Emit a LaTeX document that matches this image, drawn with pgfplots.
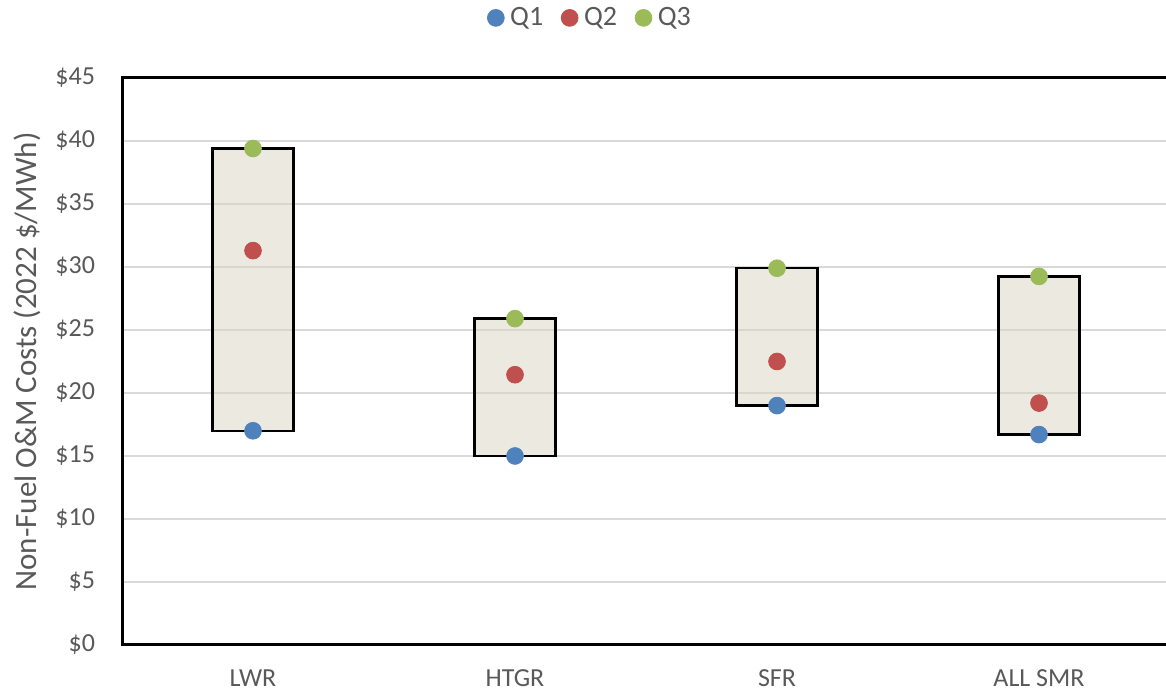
\documentclass[border=0pt]{standalone}
\usepackage{pgfplots}
\pgfplotsset{compat=1.18}
\usepackage{pgfplotstable}
\usepackage{fontspec}
\setmainfont{Carlito}
\definecolor{qone}{HTML}{4F81BD}
\definecolor{qtwo}{HTML}{C0504D}
\definecolor{qthree}{HTML}{9BBB59}
\definecolor{boxfill}{HTML}{D9D5C1}
\definecolor{gridc}{HTML}{D9D9D9}
\definecolor{txt}{HTML}{595959}
\pgfplotstableread{
x Q1 Q2 Q3
0 17.0 31.3 39.4
1 15.0 21.45 25.9
2 19.0 22.5 29.9
3 16.7 19.2 29.25
}\data
\begin{document}
\begin{tikzpicture}
\begin{axis}[
  name=ax,
  scale only axis,
  width=524pt, height=283.5pt,
  xmin=-0.5, xmax=3.5,
  ymin=0, ymax=45,
  ytick={0,5,...,45},
  xtick={0,1,2,3},
  xticklabels={LWR,HTGR,SFR,ALL SMR},
  major tick length=0pt,
  ymajorgrids,
  grid style={gridc, line width=1pt},
  axis line style={black, line width=1.5pt},
  /pgf/number format/assume math mode=true,
  yticklabel={\$\pgfmathprintnumber{\tick}},
  tick label style={font=\fontsize{13}{15}\selectfont, text=txt},
  yticklabel style={xshift=-10pt},
  xticklabel style={yshift=-12pt, inner sep=0pt},
  ylabel={Non-Fuel O\&M Costs (2022 \$/MWh)},
  ylabel style={at={(axis description cs:-0.0905,0.5)}, anchor=center, font=\fontsize{15.5}{17}\selectfont, text=txt},
  legend style={draw=none, at={(axis description cs:0.4477,1.106)}, anchor=center, font=\fontsize{14}{16}\selectfont, text=txt, legend columns=3, /tikz/every even column/.append style={column sep=7pt}, /tikz/every odd column/.append style={column sep=1pt}},
  legend cell align=left,
]
% boxes (Q1 to Q3), half width 0.155
\addplot[draw=black, fill=boxfill, fill opacity=0.5, line width=1.2pt, forget plot] coordinates {(-0.155,17.0) (0.155,17.0) (0.155,39.4) (-0.155,39.4)} -- cycle;
\addplot[draw=black, fill=boxfill, fill opacity=0.5, line width=1.2pt, forget plot] coordinates {(0.845,15.0) (1.155,15.0) (1.155,25.9) (0.845,25.9)} -- cycle;
\addplot[draw=black, fill=boxfill, fill opacity=0.5, line width=1.2pt, forget plot] coordinates {(1.845,19.0) (2.155,19.0) (2.155,29.9) (1.845,29.9)} -- cycle;
\addplot[draw=black, fill=boxfill, fill opacity=0.5, line width=1.2pt, forget plot] coordinates {(2.845,16.7) (3.155,16.7) (3.155,29.25) (2.845,29.25)} -- cycle;
\addplot[only marks, mark=*, mark size=4.2pt, color=qone, mark options={draw=none, fill=qone}] table[x=x, y=Q1]{\data};
\addlegendentry{Q1}
\addplot[only marks, mark=*, mark size=4.2pt, color=qtwo, mark options={draw=none, fill=qtwo}] table[x=x, y=Q2]{\data};
\addlegendentry{Q2}
\addplot[only marks, mark=*, mark size=4.2pt, color=qthree, mark options={draw=none, fill=qthree}] table[x=x, y=Q3]{\data};
\addlegendentry{Q3}
\end{axis}
\pgfresetboundingbox
\path[use as bounding box] ([xshift=-61pt, yshift=-23pt]ax.south west) rectangle ([xshift=-2pt, yshift=39pt]ax.north east);
\end{tikzpicture}
\end{document}
